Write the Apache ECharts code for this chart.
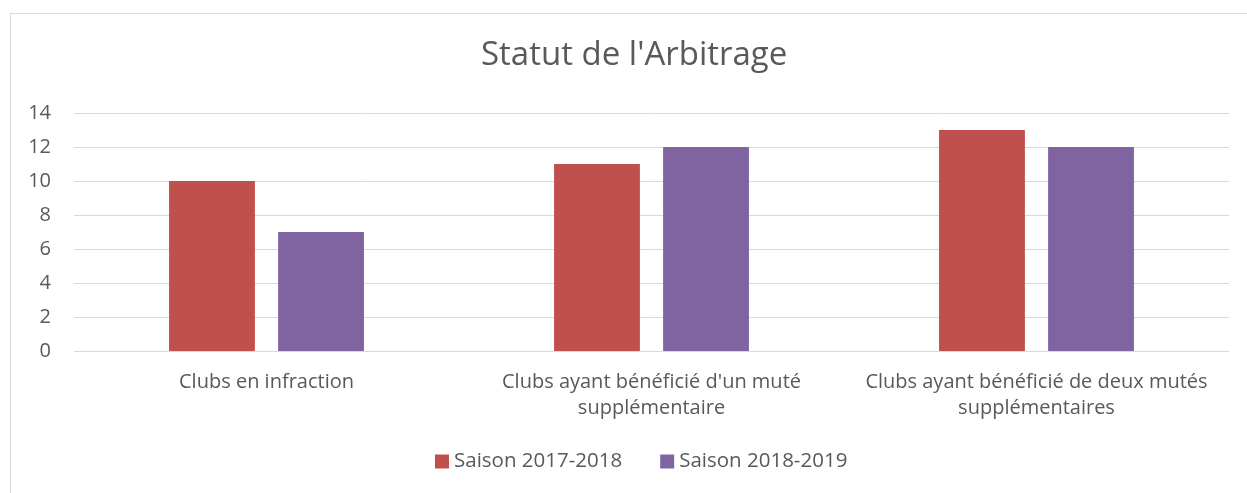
<!DOCTYPE html>
<html>
<head>
<meta charset="utf-8">
<script src="https://cdn.jsdelivr.net/npm/echarts@6/dist/echarts.min.js"></script>
<style>
  html, body { margin: 0; padding: 0; background: #fff; }
  #frame { position: absolute; left: 10px; top: 13px; width: 1250px; height: 500px; border: 1px solid #d9d9d9; box-sizing: border-box; }
  #chart { position: absolute; left: 0; top: 0; width: 1247px; height: 493px; }
</style>
</head>
<body>
<div id="frame"></div>
<div id="chart"></div>
<script>
  var categories = [
    "Clubs en infraction",
    "Clubs ayant bénéficié d'un muté\nsupplémentaire",
    "Clubs ayant bénéficié de deux mutés\nsupplémentaires"
  ];
  var saison2017 = [10, 11, 13];
  var saison2018 = [7, 12, 12];
  var seriesNames = ["Saison 2017-2018", "Saison 2018-2019"];

  var font = "'Open Sans', sans-serif";
  var myChart = echarts.init(document.getElementById('chart'));
  myChart.setOption({
    animation: false,
    title: {
      text: "Statut de l'Arbitrage",
      left: 476,
      top: 34,
      textStyle: { fontFamily: font, fontSize: 33, fontWeight: 'normal', color: '#595959' }
    },
    legend: {
      bottom: 16,
      left: 430,
      itemWidth: 14,
      itemHeight: 14,
      itemGap: 38,
      icon: 'rect',
      textStyle: { fontFamily: font, fontSize: 20.5, color: '#595959' },
      data: seriesNames
    },
    grid: { left: 74, right: 18, top: 113, bottom: 142, containLabel: false },
    xAxis: {
      type: 'category',
      data: categories,
      axisLine: { show: false },
      axisTick: { show: false },
      axisLabel: {
        interval: 0,
        margin: 18,
        fontFamily: font,
        fontSize: 20,
        lineHeight: 26,
        color: '#595959'
      }
    },
    yAxis: {
      type: 'value',
      min: 0,
      max: 14,
      interval: 2,
      axisLine: { show: false },
      axisTick: { show: false },
      splitLine: { lineStyle: { color: '#d9d9d9', width: 1 } },
      axisLabel: { margin: 23, fontFamily: font, fontSize: 20, color: '#595959' }
    },
    series: [
      {
        name: seriesNames[0],
        type: 'bar',
        data: saison2017,
        barWidth: '22.3%',
        barGap: '27%',
        itemStyle: { color: '#c0504d' }
      },
      {
        name: seriesNames[1],
        type: 'bar',
        data: saison2018,
        barWidth: '22.3%',
        barGap: '27%',
        itemStyle: { color: '#8064a2' }
      }
    ]
  });
</script>
</body>
</html>
